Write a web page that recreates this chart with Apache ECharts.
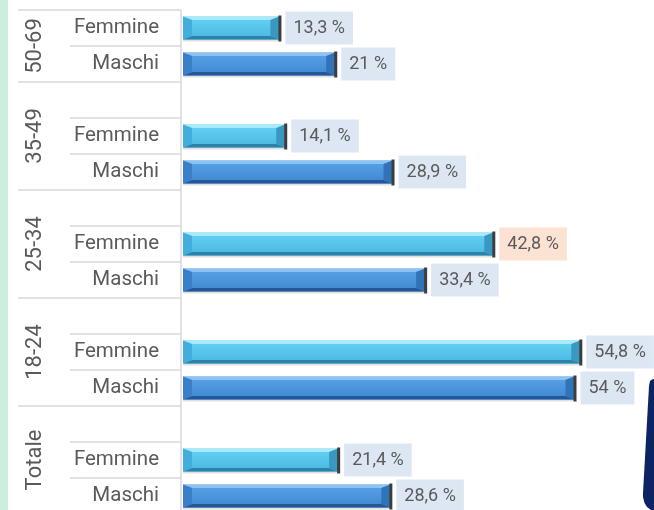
<!DOCTYPE html>
<html><head><meta charset="utf-8">
<script src="https://cdn.jsdelivr.net/npm/echarts@6/dist/echarts.min.js"></script>
<style>html,body{margin:0;padding:0;background:#fff;overflow:hidden}#c{width:654px;height:524px}</style>
</head><body><div id="c"></div>
<script>
// ---- data ----
var groups = ["50-69", "35-49", "25-34", "18-24", "Totale"];
var femmine = [13.3, 14.1, 42.8, 54.8, 21.4];
var maschi = [21, 28.9, 33.4, 54, 28.6];
var subLabels = ["Femmine", "Maschi"];
var highlight = {group: "25-34", sex: "Femmine"};

// rows top-to-bottom (first group has no spacer row)
var rows = [];
var barData = [];
groups.forEach(function (g, gi) {
  if (gi > 0) rows.push({label: "", group: g});
  rows.push({label: subLabels[0], group: g});
  barData.push([femmine[gi], rows.length - 1, 0, g]);
  rows.push({label: subLabels[1], group: g});
  barData.push([maschi[gi], rows.length - 1, 1, g]);
});
var cats = rows.map(function (r, i) { return String(i); });

function fmt(v) { return String(v).replace('.', ',') + ' %'; }

var pal = [
  {faceA: '#66d3f4', faceB: '#48b7e2', top: '#a8eafb', bottom: '#2d82a8', left: '#40afdc', right: '#3898c0'},
  {faceA: '#5aa3e7', faceB: '#3f86d1', top: '#8cc3f2', bottom: '#245796', left: '#3a80c8', right: '#3272b6'}
];

function renderBar(params, api) {
  var v = api.value(0), r = api.value(1), s = api.value(2);
  var p1 = api.coord([v, r]);
  var p0 = api.coord([0, r]);
  var h = 23;
  var x0 = p0[0], x1 = p1[0], y0 = p1[1] - h / 2, y1 = p1[1] + h / 2;
  var c = pal[s];
  var b = 3.5, e = 9;
  var ch = [];
  ch.push({type: 'rect', shape: {x: x0, y: y1, width: x1 - x0, height: 2}, style: {fill: 'rgba(0,0,0,0.12)'}});
  ch.push({type: 'rect', shape: {x: x0, y: y0, width: x1 - x0, height: h}, style: {
    fill: new echarts.graphic.LinearGradient(0, 0, 0, 1, [{offset: 0, color: c.faceA}, {offset: 1, color: c.faceB}])}});
  ch.push({type: 'polygon', shape: {points: [[x0, y0], [x1, y0], [x1 - e, y0 + b], [x0 + e, y0 + b]]}, style: {fill: c.top}});
  ch.push({type: 'polygon', shape: {points: [[x0, y1], [x1, y1], [x1 - e, y1 - b], [x0 + e, y1 - b]]}, style: {fill: c.bottom}});
  ch.push({type: 'polygon', shape: {points: [[x0, y0], [x0 + e, y0 + b], [x0 + e, y1 - b], [x0, y1]]}, style: {fill: c.left}});
  ch.push({type: 'polygon', shape: {points: [[x1, y0], [x1 - e, y0 + b], [x1 - e, y1 - b], [x1, y1]]}, style: {fill: c.right}});
  ch.push({type: 'rect', shape: {x: x1 - 1, y: y0 - 1, width: 3, height: h + 3}, style: {fill: '#3d3d3d'}});
  var g = api.value(3);
  var hl = (g === highlight.group && subLabels[s] === highlight.sex);
  ch.push({type: 'text', x: x1 + 6, y: p1[1], style: {
    text: fmt(v), fill: '#5a5a5a', font: '18px Roboto', verticalAlign: 'middle', align: 'left',
    backgroundColor: hl ? '#fbe2d3' : '#dce7f3', padding: [8, 8, 7, 8]
  }});
  return {type: 'group', children: ch};
}

var chart = echarts.init(document.getElementById('c'), null, {renderer: 'canvas'});
chart.setOption({
  animation: false,
  backgroundColor: '#ffffff',
  grid: {left: 183, width: 435, top: 10, height: 504, containLabel: false},
  xAxis: {type: 'value', min: 0, max: 60, show: false},
  yAxis: {
    type: 'category', data: cats, inverse: true,
    axisLine: {show: false}, axisTick: {show: false}, splitLine: {show: false},
    axisLabel: {margin: 24, color: '#5a5a5a', fontFamily: 'Roboto', fontSize: 20.5,
      formatter: function (v) { return rows[+v].label; }}
  },
  series: [{type: 'custom', renderItem: renderBar, data: barData, encode: {x: 0, y: 1}, clip: false}]
});

// decorations: grid lines, group labels
var gfx = [];
gfx.push({type: 'rect', shape: {x: 0, y: 0, width: 8, height: 524}, style: {fill: '#cdeedf'}, z: 0});
var band = 36;
var lineColor = '#d9d9d9';
function yOf(i) { return chart.convertToPixel({yAxisIndex: 0}, String(i)); }
rows.forEach(function (r, i) {
  var yTop = yOf(i) - band / 2;
  var isGroupStart = (i === 0) || rows[i - 1].group !== r.group;
  gfx.push({type: 'line', shape: {x1: isGroupStart ? 18 : 70, y1: yTop, x2: 181, y2: yTop},
    style: {stroke: lineColor, lineWidth: 1.5}});
});
gfx.push({type: 'line', shape: {x1: 181, y1: 10, x2: 181, y2: 524}, style: {stroke: lineColor, lineWidth: 1.5}});
groups.forEach(function (g) {
  var idx = rows.map(function (r, i) { return r.group === g ? i : -1; }).filter(function (i) { return i >= 0; });
  var yc = (yOf(idx[0]) + yOf(idx[idx.length - 1])) / 2;
  gfx.push({type: 'text', x: 35, y: yc, rotation: Math.PI / 2,
    style: {text: g, fill: '#5a5a5a', font: '22px Roboto', align: 'center', verticalAlign: 'middle'}});
});
gfx.push({type: 'polygon', shape: {points: [[649, 386], [650, 381], [652, 379.5], [654, 379], [654, 510], [651, 510],
  [647, 507], [644.5, 503], [643, 497], [643, 493]]}, style: {fill: '#0c2464'}});
chart.setOption({graphic: gfx});
</script></body></html>
